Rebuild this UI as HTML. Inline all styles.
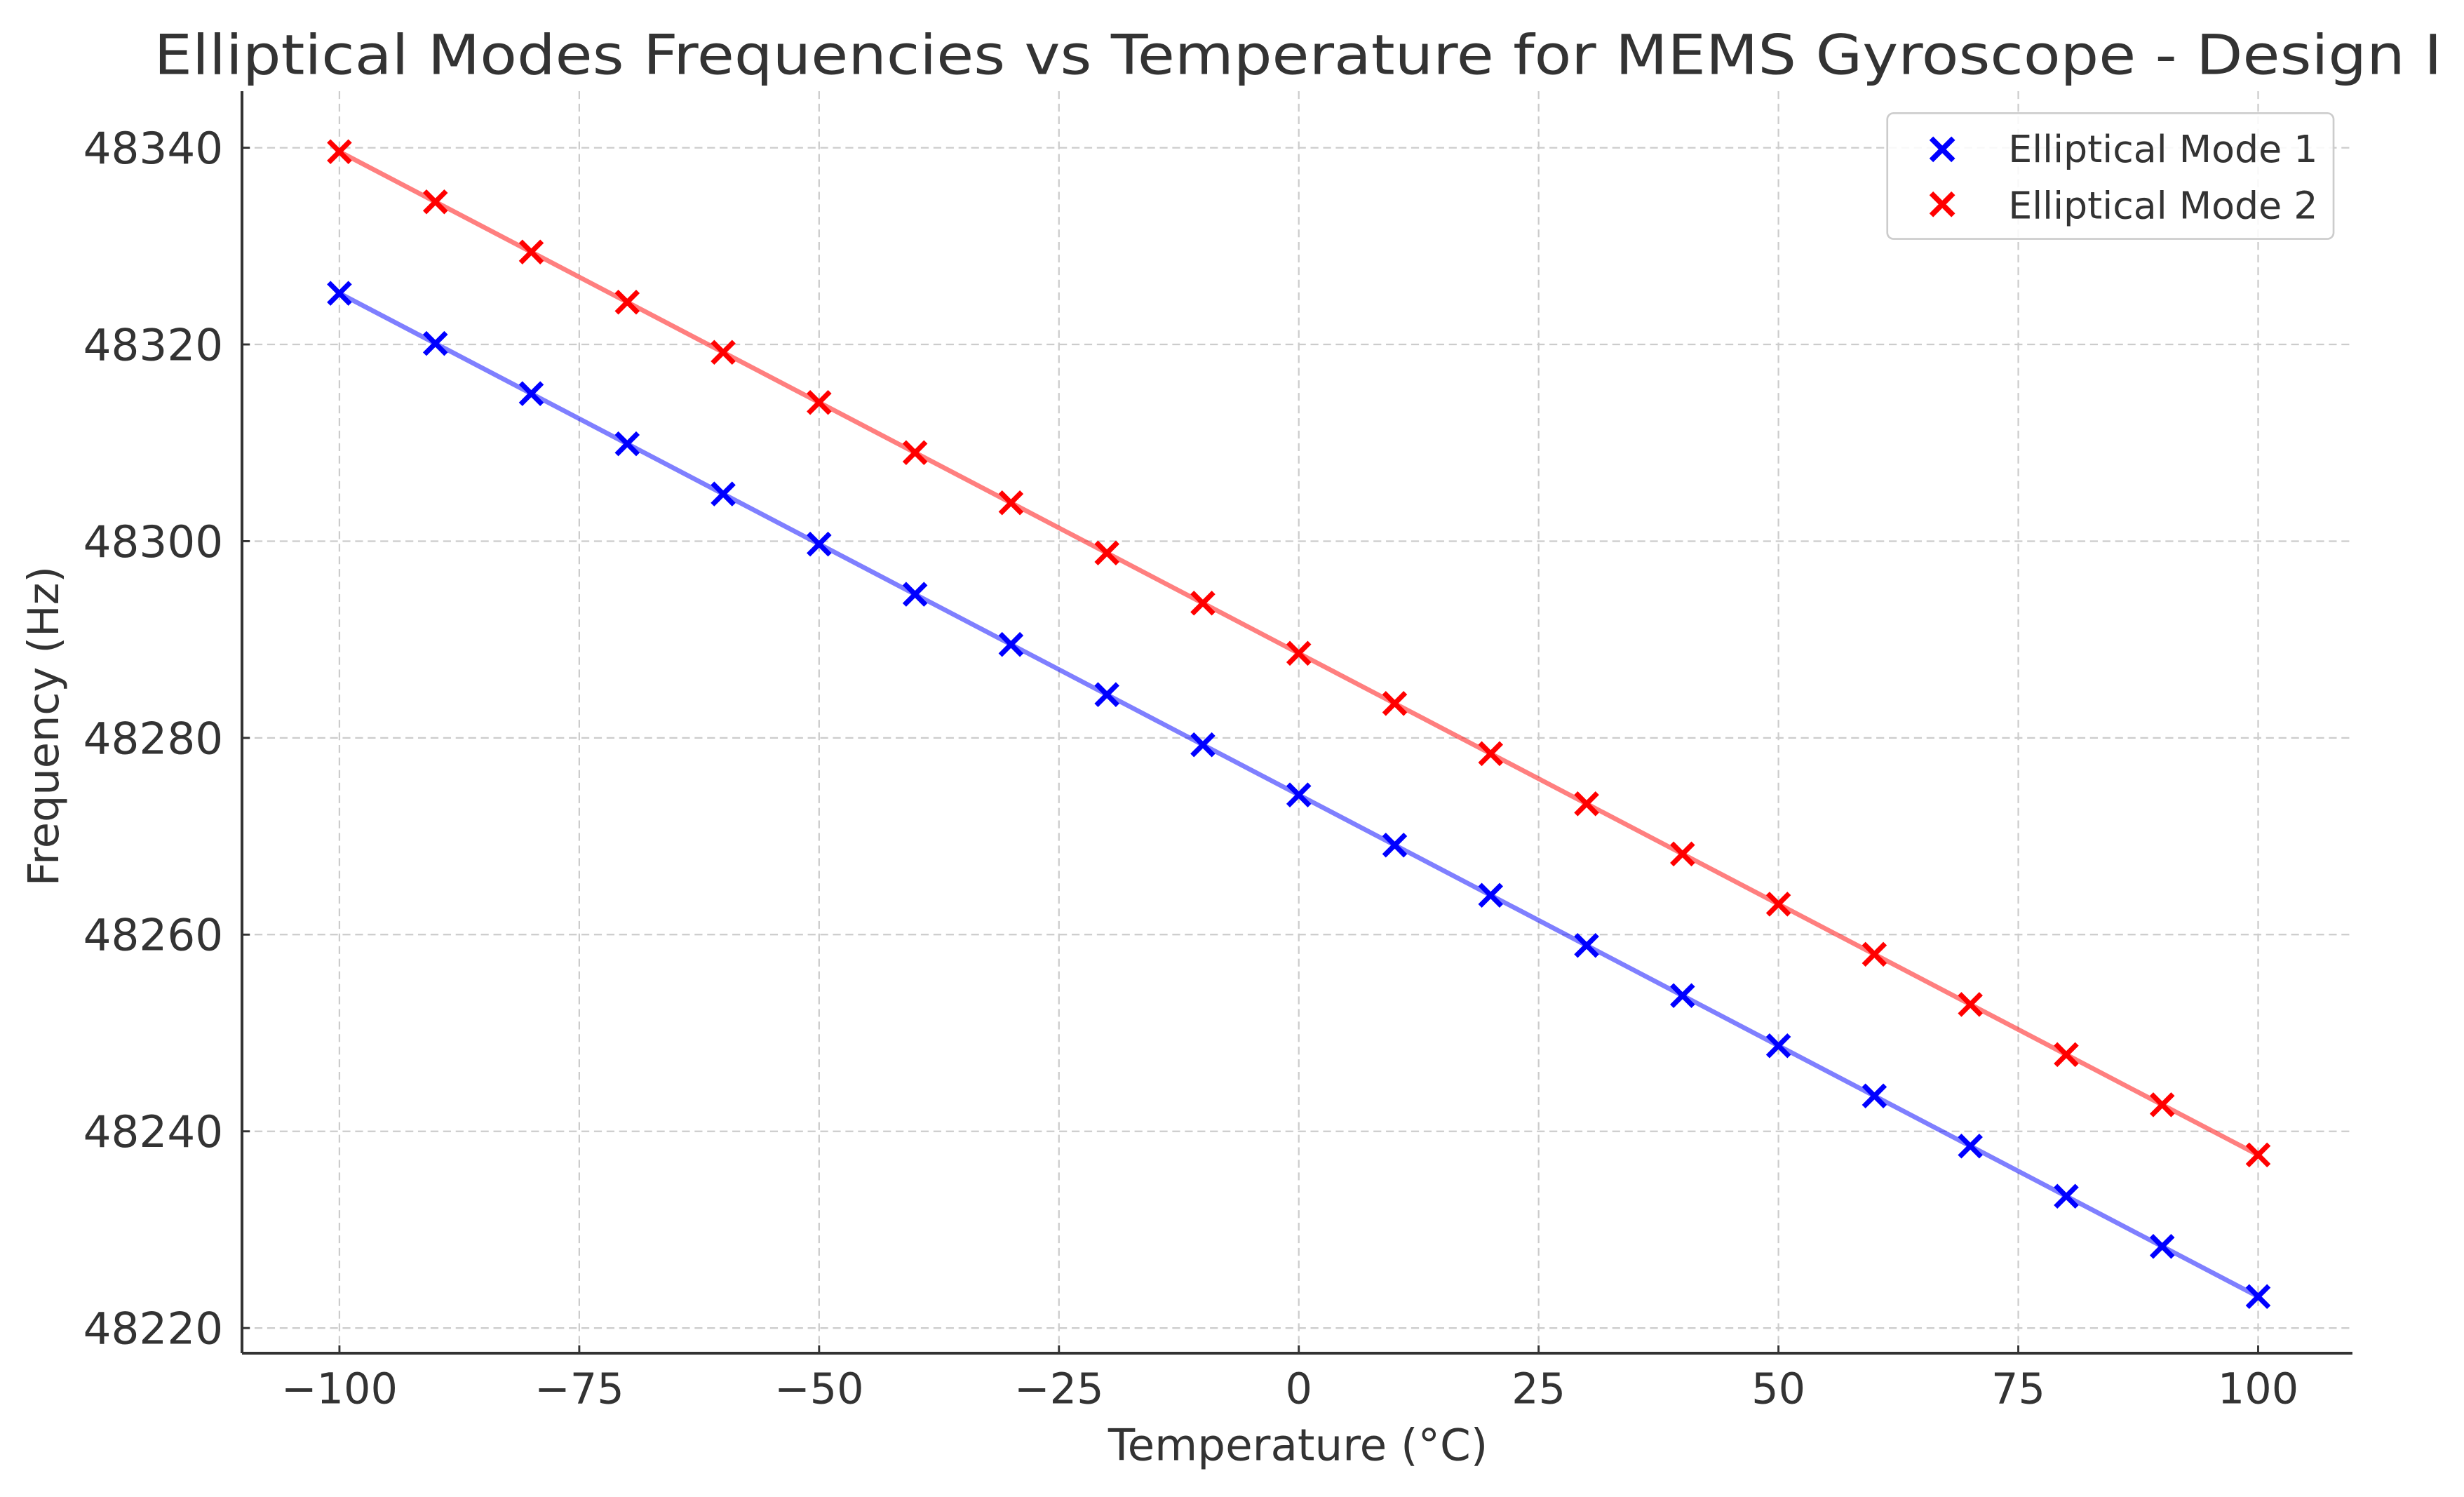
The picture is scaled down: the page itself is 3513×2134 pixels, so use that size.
<!DOCTYPE html>
<html><head><meta charset="utf-8"><style>
html,body{margin:0;padding:0;background:#fff;}
svg{display:block;font-family:"DejaVu Sans","Liberation Sans",sans-serif;}
</style></head><body>
<svg id="chart" width="3513" height="2134" viewBox="0 0 1568 952.5" xmlns="http://www.w3.org/2000/svg">
<rect width="1568" height="952.5" fill="#fff"/>
<text x="826" y="47" font-size="35" fill="#333" text-anchor="middle" textLength="1456" lengthAdjust="spacingAndGlyphs">Elliptical Modes Frequencies vs Temperature for MEMS Gyroscope - Design I</text>
<g id="grid"></g>
<g id="axes"></g>
<g id="series"></g>
<text x="826" y="929" font-size="28" fill="#333" text-anchor="middle">Temperature (°C)</text>
<text transform="translate(37,462) rotate(-90)" font-size="27" fill="#333" text-anchor="middle">Frequency (Hz)</text>
<g>
<rect x="1201" y="72" width="284" height="80" rx="4" fill="#fff" fill-opacity="0.85" stroke="#ccc" stroke-width="1.2"/>
<g stroke="#0000ff" stroke-width="3.4"><line x1="1229" y1="88" x2="1243" y2="102"/><line x1="1229" y1="102" x2="1243" y2="88"/></g>
<text x="1278" y="103" font-size="24" fill="#333">Elliptical Mode 1</text>
<g stroke="#ff0000" stroke-width="3.4"><line x1="1229" y1="123" x2="1243" y2="137"/><line x1="1229" y1="137" x2="1243" y2="123"/></g>
<text x="1278" y="139" font-size="24" fill="#333">Elliptical Mode 2</text>
</g>
</svg>
<script>
const temps = [-100,-90,-80,-70,-60,-50,-40,-30,-20,-10,0,10,20,30,40,50,60,70,80,90,100];
const mode1 = [48325.2,48320.1,48315.0,48309.9,48304.8,48299.7,48294.6,48289.5,48284.4,48279.3,48274.2,48269.1,48264.0,48258.9,48253.8,48248.7,48243.6,48238.5,48233.4,48228.3,48223.2];
const mode2 = [48339.6,48334.5,48329.4,48324.3,48319.2,48314.1,48309.0,48303.9,48298.8,48293.7,48288.6,48283.5,48278.4,48273.3,48268.2,48263.1,48258.0,48252.9,48247.8,48242.7,48237.6];
const xTicks = [-100,-75,-50,-25,0,25,50,75,100];
const yTicks = [48220,48240,48260,48280,48300,48320,48340];

const NS='http://www.w3.org/2000/svg';
const L=154,R=1497,T=58,B=861;
function xs(v){return 216+(v+100)*(1437-216)/200;}
function ys(v){return 845-(v-48220)*(845-94)/120;}
function mk(tag,attrs,parent){const e=document.createElementNS(NS,tag);for(const k in attrs)e.setAttribute(k,attrs[k]);parent.appendChild(e);return e;}
const grid=document.getElementById('grid'),axes=document.getElementById('axes'),ser=document.getElementById('series');
xTicks.forEach(t=>{
  const x=xs(t);
  const g=mk('line',{x1:x,x2:x,y1:T,y2:B,stroke:'#ccc','stroke-width':1,'stroke-dasharray':'5,3'},grid);
  
  
  const tk=mk('line',{x1:x,x2:x,y1:B,y2:B-5,stroke:'#333','stroke-width':1.3},axes);
  
  
  const lb=mk('text',{x:x,y:B+32,'font-size':27,fill:'#333','text-anchor':'middle'},axes);
  lb.textContent=t<0?'\u2212'+(-t):String(t);
  
  
});
yTicks.forEach(t=>{
  const y=ys(t);
  const g=mk('line',{x1:L,x2:R,y1:y,y2:y,stroke:'#ccc','stroke-width':1,'stroke-dasharray':'5,3'},grid);
  
  
  const tk=mk('line',{x1:L,x2:L+5,y1:y,y2:y,stroke:'#333','stroke-width':1.3},axes);
  
  
  const lb=mk('text',{x:L-12,y:y+10,'font-size':28,fill:'#333','text-anchor':'end'},axes);
  lb.textContent=String(t);
  
  
});
const sx=mk('line',{x1:L,x2:R,y1:B,y2:B,stroke:'#333','stroke-width':1.8},axes);


const sy=mk('line',{x1:L,x2:L,y1:T,y2:B,stroke:'#333','stroke-width':1.8},axes);



function drawSeries(vals,color,name){
  const pts=temps.map((t,i)=>xs(t)+','+ys(vals[i])).join(' ');
  const pl=mk('polyline',{points:pts,fill:'none',stroke:color,'stroke-opacity':0.5,'stroke-width':3},ser);
  
  
  temps.forEach((t,i)=>{
    const x=xs(t),y=ys(vals[i]),s=6.8;
    const g=mk('g',{stroke:color,'stroke-width':3.2},ser);
    
    
    mk('line',{x1:x-s,y1:y-s,x2:x+s,y2:y+s},g);
    mk('line',{x1:x-s,y1:y+s,x2:x+s,y2:y-s},g);
  });
}
drawSeries(mode1,'#0000ff','mode-1');
drawSeries(mode2,'#ff0000','mode-2');
</script>
</body></html>
